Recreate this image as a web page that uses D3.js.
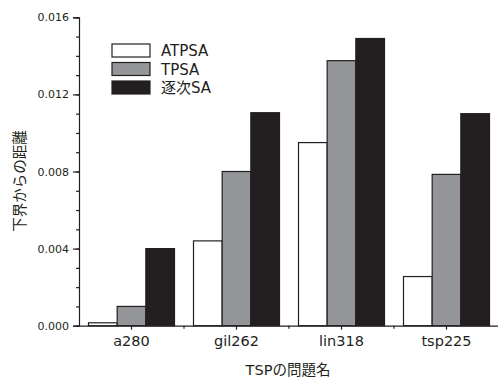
<!DOCTYPE html>
<html><head><meta charset="utf-8">
<script src="https://cdn.jsdelivr.net/npm/d3@7"></script>
<style>body{margin:0;background:#fff}svg{display:block}text{font-family:"DejaVu Sans","Noto Sans CJK JP",sans-serif;fill:#231f20}</style>
</head><body><svg id="c" width="498" height="378"></svg>
<script>
const categories = ["a280","gil262","lin318","tsp225"];
const seriesNames = ["ATPSA","TPSA","逐次SA"];
const ATPSA = [0.00015,0.0044,0.0095,0.00255];
const TPSA = [0.001,0.008,0.01375,0.00785];
const SEQSA = [0.004,0.01105,0.0149,0.011];
const yTicks = [0,0.004,0.008,0.012,0.016];
const colors = ["#ffffff","#939598","#231f20"];
const series = [ATPSA,TPSA,SEQSA];

const svg = d3.select("#c");
const x = d3.scaleBand().domain(categories).range([79,499]);
const y = d3.scaleLinear().domain([0,0.016]).range([325.7,17.3]);
const inner = d3.scaleBand().domain(d3.range(3)).range([0,86]);
const off = (x.bandwidth()-86)/2;

categories.forEach((c,i)=>{
  series.forEach((s,j)=>{
    svg.append("rect")
      .attr("x", x(c)+off+inner(j))
      .attr("y", y(s[i]))
      .attr("width", inner.bandwidth())
      .attr("height", y(0)-y(s[i]))
      .attr("fill", colors[j])
      .attr("stroke","#231f20").attr("stroke-width",1.2);
  });
});

// y axis
const ya = svg.append("g").attr("transform","translate(79,0)");
ya.call(d3.axisLeft(y).tickValues(yTicks).tickFormat(d3.format(".3f")).tickSize(6).tickPadding(4));
ya.append("g").call(d3.axisLeft(y).tickValues(d3.range(0,0.0161,0.001)).tickFormat("").tickSize(3)).select(".domain").remove();
ya.selectAll("text").style("font-size","11px").attr("fill","#231f20");
ya.selectAll("line,path").attr("stroke","#231f20").attr("stroke-width",1.2);

// x axis
const xa = svg.append("g").attr("transform","translate(0,325.7)");
xa.call(d3.axisBottom(x).tickSize(4).tickPadding(6).tickSizeOuter(0));
xa.selectAll("text").style("font-size","14.5px").attr("fill","#231f20");
const minor = categories.slice(1).map(c=>x(c));
xa.selectAll(".mn").data(minor).enter().append("line").attr("x1",d=>d).attr("x2",d=>d).attr("y1",0).attr("y2",3);
xa.selectAll("line,path").attr("stroke","#231f20").attr("stroke-width",1.2);

svg.append("text").attr("x",288).attr("y",375).attr("text-anchor","middle").style("font-size","14.5px").text("TSPの問題名");
svg.append("text").attr("transform","translate(25,181) rotate(-90)").attr("text-anchor","middle").style("font-size","14.5px").text("下界からの距離");

// legend
seriesNames.forEach((n,j)=>{
  const yy = 44 + j*18.5;
  svg.append("rect").attr("x",112).attr("y",yy).attr("width",38).attr("height",13).attr("fill",colors[j]).attr("stroke","#231f20").attr("stroke-width",1.2);
  svg.append("text").attr("x",161).attr("y",yy+12).style("font-size","15px").text(n);
});
</script></body></html>
